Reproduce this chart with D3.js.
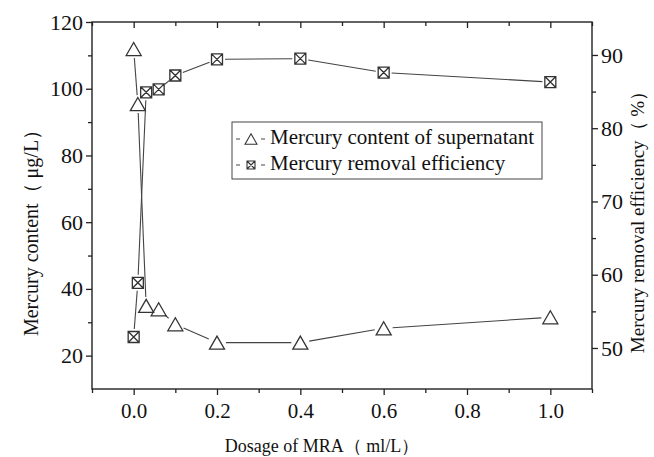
<!DOCTYPE html>
<html>
<head>
<meta charset="utf-8">
<script src="https://cdn.jsdelivr.net/npm/d3@7.9.0/dist/d3.min.js"></script>
<style>
  body { margin: 0; background: #fff; }
  svg text { font-family: "Liberation Serif", "Times New Roman", Tinos, "Nimbus Roman", "DejaVu Serif", serif; fill: #111; }
</style>
</head>
<body>
<svg id="chart" width="654" height="457"></svg>
<script>
// dosage of MRA (ml/L)
const dosage = [0, 0.01, 0.03, 0.06, 0.1, 0.2, 0.4, 0.6, 1.0];
// mercury content of supernatant (μg/L), left axis
const content = [111.9, 95.4, 34.9, 33.9, 29.4, 23.9, 23.9, 28.2, 31.5];
// mercury removal efficiency (%), right axis
const efficiency = [51.5, 58.9, 84.9, 85.3, 87.2, 89.4, 89.5, 87.6, 86.3];

const xTicks = [0, 0.2, 0.4, 0.6, 0.8, 1.0];
const leftTicks = [20, 40, 60, 80, 100, 120];
const rightTicks = [50, 60, 70, 80, 90];

const serif = '"Liberation Serif", "Times New Roman", Tinos, "Nimbus Roman", "DejaVu Serif", serif';

const width = 654, height = 457;
const margin = { top: 22, right: 62, bottom: 68, left: 92 };
const plot = {
  left: margin.left,
  right: width - margin.right,
  top: margin.top,
  bottom: height - margin.bottom,
};

const svg = d3.select('#chart');

const xScale = d3.scaleLinear().domain([-0.1, 1.1]).range([plot.left, plot.right]);
const yLeft = d3.scaleLinear().domain([10, 120]).range([plot.bottom, plot.top]);
const yRight = d3.scaleLinear().domain([44.4, 94.5]).range([plot.bottom, plot.top]);

const ink = '#222';
const lineInk = '#444';

function styleAxis(g, fontSize) {
  g.attr('font-family', null);
  g.select('.domain').remove();
  g.selectAll('.tick line').attr('stroke', ink).attr('stroke-width', 1.3);
  g.selectAll('.tick text').attr('font-size', fontSize).attr('fill', '#111')
    .style('font-family', serif);
}

// frame
svg.append('rect')
  .attr('x', plot.left).attr('y', plot.top)
  .attr('width', plot.right - plot.left).attr('height', plot.bottom - plot.top)
  .attr('fill', 'none').attr('stroke', ink).attr('stroke-width', 1.4);

// bottom axis
const xMinor = d3.range(-0.1, 1.11, 0.2).map(d => +d.toFixed(2));
svg.append('g')
  .attr('transform', `translate(0,${plot.bottom})`)
  .call(d3.axisBottom(xScale).tickValues(xTicks).tickSize(6).tickPadding(8).tickFormat(d3.format('.1f')))
  .call(g => styleAxis(g, 21));
svg.append('g')
  .attr('transform', `translate(0,${plot.bottom})`)
  .call(d3.axisBottom(xScale).tickValues(xMinor).tickSize(4).tickFormat(''))
  .call(g => styleAxis(g, 0));

// top axis (inward ticks)
svg.append('g')
  .attr('transform', `translate(0,${plot.top})`)
  .call(d3.axisBottom(xScale).tickValues(xTicks).tickSize(6).tickFormat(''))
  .call(g => styleAxis(g, 0));
svg.append('g')
  .attr('transform', `translate(0,${plot.top})`)
  .call(d3.axisBottom(xScale).tickValues(xMinor).tickSize(4).tickFormat(''))
  .call(g => styleAxis(g, 0));

// left axis
svg.append('g')
  .attr('transform', `translate(${plot.left},0)`)
  .call(d3.axisLeft(yLeft).tickValues(leftTicks).tickSize(6).tickPadding(3))
  .call(g => styleAxis(g, 22));
svg.append('g')
  .attr('transform', `translate(${plot.left},0)`)
  .call(d3.axisLeft(yLeft).tickValues([30, 50, 70, 90, 110]).tickSize(4).tickFormat(''))
  .call(g => styleAxis(g, 0));

// right axis
svg.append('g')
  .attr('transform', `translate(${plot.right},0)`)
  .call(d3.axisRight(yRight).tickValues(rightTicks).tickSize(6).tickPadding(3))
  .call(g => styleAxis(g, 22));
svg.append('g')
  .attr('transform', `translate(${plot.right},0)`)
  .call(d3.axisRight(yRight).tickValues([55, 65, 75, 85]).tickSize(4).tickFormat(''))
  .call(g => styleAxis(g, 0));

// axis titles
svg.append('text')
  .attr('transform', `translate(33,228) rotate(-90)`)
  .attr('text-anchor', 'middle').attr('dominant-baseline', 'middle')
  .attr('font-size', 20)
  .text('Mercury content（ μg/L）');

svg.append('text')
  .attr('transform', `translate(640,${(plot.top + plot.bottom) / 2 + 12}) rotate(-90)`)
  .attr('text-anchor', 'middle').attr('dominant-baseline', 'middle')
  .attr('font-size', 19)
  .text('Mercury removal efficiency（ %）');

svg.append('text')
  .attr('x', 322).attr('y', 452)
  .attr('text-anchor', 'middle')
  .attr('font-size', 18)
  .text('Dosage of MRA（ ml/L）');

// marker shapes
function triPath(s) {
  const h = s * 0.87;
  return `M0,${-h / 2}L${s / 2},${h / 2}L${-s / 2},${h / 2}Z`;
}
function boxPath(s) {
  const r = s / 2;
  return `M${-r},${-r}H${r}V${r}H${-r}Z M${-r},${-r}L${r},${r} M${r},${-r}L${-r},${r}`;
}

// series line drawn as segments with gaps around markers
function drawSeries(values, yScale, path, gap) {
  const pts = dosage.map((d, i) => [xScale(d), yScale(values[i])]);
  const g = svg.append('g');
  for (let i = 0; i < pts.length - 1; i++) {
    const [x0, y0] = pts[i], [x1, y1] = pts[i + 1];
    const len = Math.hypot(x1 - x0, y1 - y0);
    if (len <= gap * 2) continue;
    const ux = (x1 - x0) / len, uy = (y1 - y0) / len;
    g.append('line')
      .attr('x1', x0 + ux * gap).attr('y1', y0 + uy * gap)
      .attr('x2', x1 - ux * gap).attr('y2', y1 - uy * gap)
      .attr('stroke', lineInk).attr('stroke-width', 1.1);
  }
  g.selectAll('path')
    .data(pts)
    .join('path')
    .attr('transform', d => `translate(${d[0]},${d[1]})`)
    .attr('d', path)
    .attr('fill', 'none')
    .attr('stroke', '#333')
    .attr('stroke-width', 1.3);
}

drawSeries(content, yLeft, triPath(15), 9);
drawSeries(efficiency, yRight, boxPath(11), 8);

// legend
const legend = svg.append('g').attr('transform', 'translate(232,122)');
legend.append('rect')
  .attr('width', 310).attr('height', 57)
  .attr('fill', '#fff').attr('stroke', '#444').attr('stroke-width', 1);

const legendItems = [
  { label: 'Mercury content of supernatant', path: triPath(12) },
  { label: 'Mercury removal efficiency', path: boxPath(8) },
];
legendItems.forEach((item, i) => {
  const cy = 17 + i * 26;
  const row = legend.append('g').attr('transform', `translate(0,${cy})`);
  row.append('line').attr('x1', 4).attr('x2', 8).attr('y1', 0).attr('y2', 0)
    .attr('stroke', lineInk).attr('stroke-width', 1);
  row.append('line').attr('x1', 29).attr('x2', 33).attr('y1', 0).attr('y2', 0)
    .attr('stroke', lineInk).attr('stroke-width', 1);
  row.append('path').attr('transform', 'translate(19,0)').attr('d', item.path)
    .attr('fill', 'none').attr('stroke', '#333').attr('stroke-width', 1.1);
  row.append('text').attr('x', 38).attr('y', 0)
    .attr('dominant-baseline', 'middle')
    .attr('font-size', 21)
    .text(item.label);
});
</script>
</body>
</html>
